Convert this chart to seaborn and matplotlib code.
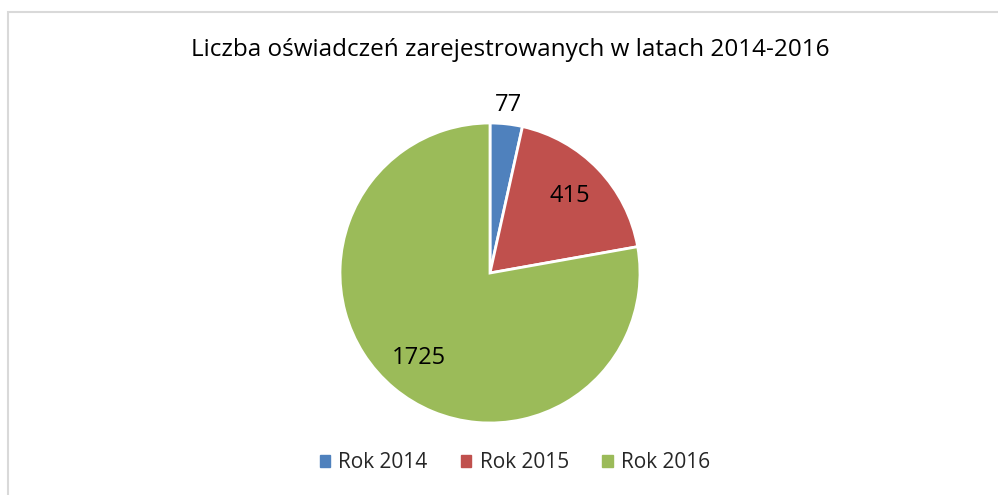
import numpy as np
import matplotlib
matplotlib.use("Agg")
import matplotlib.pyplot as plt
from matplotlib.patches import Rectangle
import seaborn as sns

title = "Liczba oświadczeń zarejestrowanych w latach 2014-2016"
years = ["Rok 2014", "Rok 2015", "Rok 2016"]
counts = [77, 415, 1725]
colors = ["#4F81BD", "#C0504D", "#9BBB59"]

sns.set_theme(style="white")
plt.rcParams['font.family'] = ['Open Sans', 'DejaVu Sans']
palette = sns.color_palette(colors)

fig = plt.figure(figsize=(9.98, 4.95), dpi=100)

# light grey chart frame (right/bottom cut off like in the original)
fig.patches.append(Rectangle((8 / 998, -0.1), 1.2, (495 - 12) / 495 + 0.1,
                             transform=fig.transFigure, fill=False,
                             edgecolor="#D9D9D9", linewidth=1.5))

ax = fig.add_axes([(490 - 150) / 998, (495 - 273 - 150) / 495, 300 / 998, 300 / 495])
wedges, _ = ax.pie(counts, colors=palette, startangle=90, counterclock=False,
                   radius=1, wedgeprops=dict(edgecolor="white", linewidth=2))
ax.set_xlim(-1, 1)
ax.set_ylim(-1, 1)
ax.set_aspect("equal")
ax.axis("off")

# value labels: first (small) slice outside, the rest inside
for i, (w, v) in enumerate(zip(wedges, counts)):
    ang = np.deg2rad((w.theta1 + w.theta2) / 2)
    r = 1.13 if i == 0 else 0.74
    ax.text(r * np.cos(ang), r * np.sin(ang), str(v), ha="center", va="center",
            fontsize=17, color="black")

fig.text(510 / 998, 1 - 50 / 495, title, ha="center", va="center", fontsize=17.5, color="black")

handles = [Rectangle((0, 0), 1, 1, color=c) for c in palette]
fig.legend(handles, years, loc="center", bbox_to_anchor=(515 / 998, 1 - 463 / 495),
           ncol=3, frameon=False, fontsize=15, handlelength=0.5, handleheight=0.5,
           handletextpad=0.4, columnspacing=1.6)

fig.savefig("out.png", dpi=100, facecolor="white")
